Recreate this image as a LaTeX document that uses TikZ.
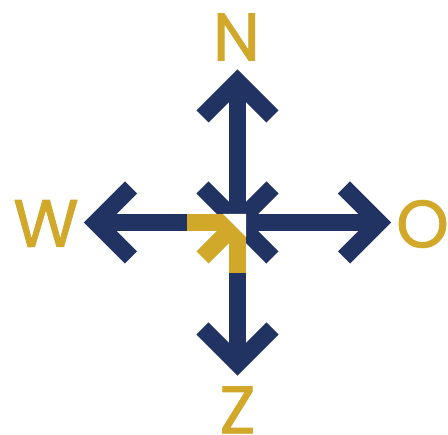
\documentclass[tikz,border=0pt]{standalone}
\usepackage{fontspec}
\setmainfont{Poppins}
\newfontfamily\lblfont[FakeBold=1.2]{Poppins}
\usetikzlibrary{calc}
\definecolor{navy}{HTML}{213363}
\definecolor{gold}{HTML}{D1A82A}
\begin{document}
\begin{tikzpicture}[x=1pt,y=-1pt,
  bar/.style={line width=17pt, line cap=butt},
  head/.style={line width=17pt, line join=miter, line cap=butt},
  lbl/.style={font=\lblfont\fontsize{67}{67}\selectfont, text=gold, inner sep=0pt}]
\useasboundingbox (0,0) rectangle (448,435);
\coordinate (c) at (237.5,222.5);
\coordinate (tn) at (237.5,81.5);
\coordinate (ts) at (237.5,363.5);
\coordinate (tw) at (96,222.5);
\coordinate (te) at (379,222.5);
% shafts
\draw[navy,bar] (c) -- (tn);
\draw[navy,bar] (c) -- (ts);
\draw[navy,bar] (c) -- (tw);
\draw[navy,bar] (c) -- (te);
% heads
\draw[navy,head] ($(tn)+(-35,35)$) -- (tn) -- ($(tn)+(35,35)$);
\draw[navy,head] ($(ts)+(-35,-35)$) -- (ts) -- ($(ts)+(35,-35)$);
\draw[navy,head] ($(tw)+(35,-35)$) -- (tw) -- ($(tw)+(35,35)$);
\draw[navy,head] ($(te)+(-35,-35)$) -- (te) -- ($(te)+(-35,35)$);
% centre cross
\draw[navy,bar] ($(c)+(-35,-35)$) -- ($(c)+(35,35)$);
\draw[navy,bar] ($(c)+(35,-35)$) -- (c);
% gold arrow
\fill[gold] (187,214) rectangle (246,231);
\fill[gold] (229,214) rectangle (246,273);
\draw[gold,bar] ($(c)+(-35,35)$) -- (c);
\fill[white] (223,214) -- (246,214) -- (246,237) -- cycle;
% labels
\node[lbl] (n) at (236.5,37) {N};
\node[lbl] (w) at (46,223.5) {W};
\node[lbl] (o) at (422.5,224) {O};
\node[lbl] (z) at (237.5,410) {Z};
\end{tikzpicture}
\end{document}
